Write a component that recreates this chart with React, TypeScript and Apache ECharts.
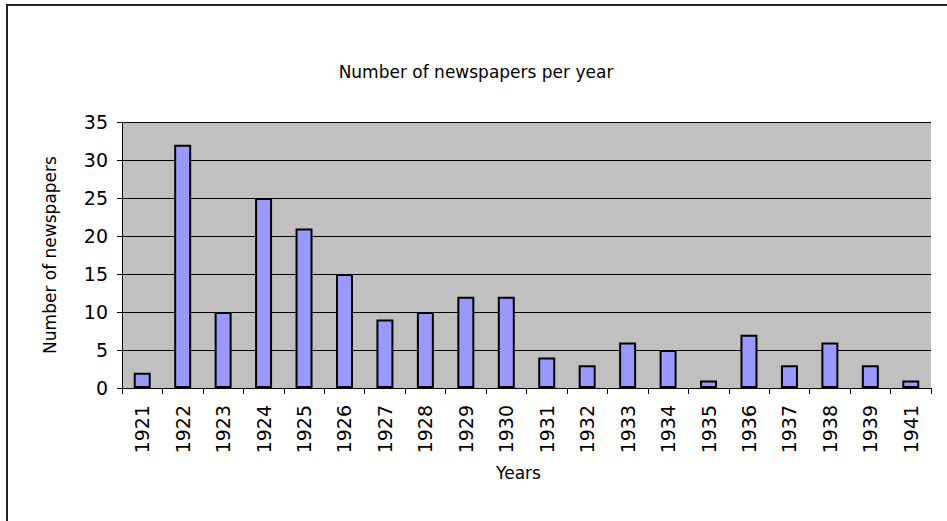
import React, { useEffect, useRef } from "react";
import * as echarts from "echarts";

const years = ["1921","1922","1923","1924","1925","1926","1927","1928","1929","1930","1931","1932","1933","1934","1935","1936","1937","1938","1939","1941"];
const counts = [2, 32, 10, 25, 21, 15, 9, 10, 12, 12, 4, 3, 6, 5, 1, 7, 3, 6, 3, 1];

const FONT = "DejaVu Sans, Liberation Sans, Arial, sans-serif";

export default function App() {
  const ref = useRef<HTMLDivElement>(null);
  useEffect(() => {
    const chart = echarts.init(ref.current!, null, { renderer: "svg" });
    chart.setOption({
      animation: false,
      backgroundColor: "#ffffff",
      textStyle: { fontFamily: FONT },
      title: {
        text: "Number of newspapers per year",
        left: 471,
        top: 58,
        textAlign: "center",
        textStyle: { fontSize: 17, fontWeight: "normal", color: "#000", fontFamily: FONT },
      },
      graphic: [
        {
          type: "rect",
          shape: { x: 7, y: 5, width: 1000, height: 600 },
          style: { fill: "none", stroke: "#222", lineWidth: 2 },
          silent: true,
          z: 100,
        },
      ],
      grid: { left: 122, top: 122, right: 16, bottom: 133, show: true, backgroundColor: "#c0c0c0", borderWidth: 0 },
      xAxis: {
        type: "category",
        data: years,
        name: "Years",
        nameLocation: "middle",
        nameGap: 76,
        nameTextStyle: { fontSize: 17, color: "#000", fontFamily: FONT, padding: [0, 16, 0, 0] },
        axisLine: { lineStyle: { color: "#000", width: 1 } },
        axisTick: { show: true, length: 6, lineStyle: { color: "#000" } },
        axisLabel: { rotate: 90, fontSize: 19, color: "#000", margin: 17, interval: 0, fontFamily: FONT },
        splitLine: { show: false },
      },
      yAxis: {
        type: "value",
        min: 0,
        max: 35,
        interval: 5,
        name: "Number of newspapers",
        nameLocation: "middle",
        nameGap: 64,
        nameTextStyle: { fontSize: 17, color: "#000", fontFamily: FONT },
        axisLine: { show: true, lineStyle: { color: "#000", width: 1 } },
        axisTick: { show: true, length: 5, lineStyle: { color: "#000" } },
        axisLabel: { fontSize: 19, color: "#000", margin: 14, fontFamily: FONT },
        splitLine: { show: true, lineStyle: { color: "#000", width: 1 } },
      },
      series: [
        {
          type: "bar",
          data: counts,
          barWidth: "42%",
          itemStyle: { color: "#9999ff", borderColor: "#000", borderWidth: 2 },
        },
      ],
    });
    return () => chart.dispose();
  }, []);
  return <div ref={ref} style={{ width: 947, height: 521, position: "absolute", left: 0, top: 0 }} />;
}
